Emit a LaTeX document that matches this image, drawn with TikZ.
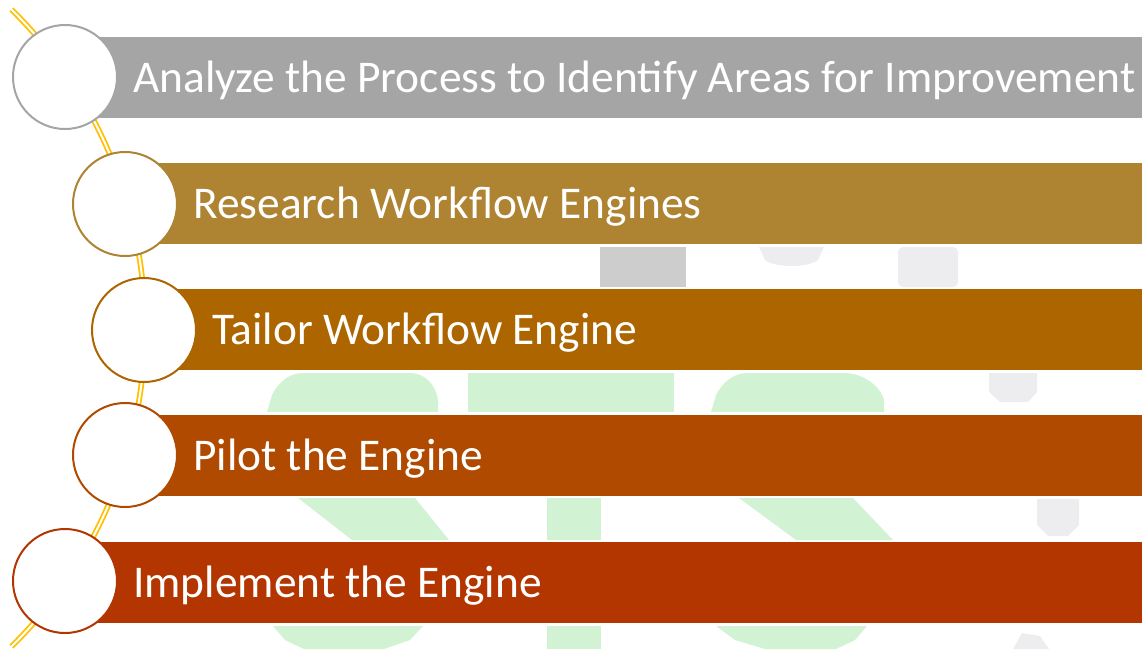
\documentclass[tikz,border=0pt]{standalone}
\usepackage{fontspec}
\setmainfont{Carlito}
\definecolor{cgray}{HTML}{A5A5A5}
\definecolor{cgold}{HTML}{AE8332}
\definecolor{corange}{HTML}{AD6500}
\definecolor{crust}{HTML}{B04A00}
\definecolor{cred}{HTML}{B33600}
\definecolor{cyel}{HTML}{FFC000}
\definecolor{wmgreen}{HTML}{D2F3D3}
\definecolor{wmgray}{HTML}{CDCDCD}
\definecolor{wmlight}{HTML}{EDEDEF}
\begin{document}
\begin{tikzpicture}[x=1pt,y=-1pt,
  bar/.style={fill=#1,draw=none},
  disc/.style={circle,draw=#1,fill=white,line width=2pt,minimum size=104pt,inner sep=0pt},
  label/.style={anchor=base west,text=white,font=\fontsize{45.4}{54}\selectfont,inner sep=0pt},
  rail/.style={draw=cyel,double=white,line width=1.8pt,double distance=2pt},
  wm/.style={fill=wmgreen,draw=none}]
\useasboundingbox (0,0) rectangle (1142,649);
% watermark pieces
\fill[wmgray] (600,247) rectangle (686,287);
\fill[wmlight] (759,247) -- (824,247) -- (818,260) .. controls (808,268) and (775,268) .. (765,260) -- cycle;
\fill[wmlight,rounded corners=5pt] (898,247) rectangle (958,287);
\fill[wmlight] (989,373) -- (1037,373) -- (1037,392) -- (1028,402) -- (1000,402) -- (989,392) -- cycle;
\fill[wmlight] (1037,499) -- (1079,499) -- (1079,525) -- (1068,536) -- (1048,536) -- (1037,525) -- cycle;
\fill[wmlight] (1013,649) -- (1049,649) -- (1040,636) -- (1022,633) -- cycle;
\fill[wm] (267,412) -- (272,395) .. controls (280,380) and (290,373) .. (304,373) -- (410,373) .. controls (425,373) and (436,385) .. (438,400) -- (438,412) -- cycle;
\fill[wm] (468,373) rectangle (674,412);
\fill[wm] (711,412) -- (716,395) .. controls (724,380) and (735,373) .. (748,373) -- (844,373) .. controls (862,373) and (880,385) .. (884,400) -- (884,412) -- cycle;
\fill[wm] (298,498) -- (415,498) -- (449,540) -- (352,540) -- cycle;
\fill[wm] (547,498) rectangle (601,540);
\fill[wm] (739,498) -- (853,498) -- (893,540) -- (796,540) -- cycle;
\fill[wm] (273,626) -- (423,626) -- (410,640) -- (384,649) -- (304,649) -- (285,640) -- cycle;
\fill[wm] (547,626) rectangle (601,649);
\fill[wm] (716,626) -- (867,626) -- (855,640) -- (836,649) -- (765,649) -- (735,640) -- cycle;
% rail through the circles
\coordinate (railtop) at (12,10);
\coordinate (railbot) at (12,645);
\draw[rail] plot[domain=-45.5:45.5,samples=90] ({-301.7+446.7*cos(\x)},{328+446.7*sin(\x)});
% bars
\fill[bar=cgray] (65,37) rectangle (1142,118);
\fill[bar=cgold] (125,163) rectangle (1142,244);
\fill[bar=corange] (144,289) rectangle (1142,370);
\fill[bar=crust] (125,415) rectangle (1142,496);
\fill[bar=cred] (65,542) rectangle (1142,623);
% circles
\node[disc=cgray] (c1) at (65,77) {};
\node[disc=cgold] (c2) at (125,204) {};
\node[disc=corange] (c3) at (144,330) {};
\node[disc=crust] (c4) at (125,455) {};
\node[disc=cred] (c5) at (65,581) {};
% labels
\node[label] (t1) at (133,92.3) {Analyze the Process to Identify Areas for Improvement};
\node[label] (t2) at (193,218.3) {Research Workflow Engines};
\node[label] (t3) at (212,344.3) {Tailor Workflow Engine};
\node[label] (t4) at (193,470.3) {Pilot the Engine};
\node[label] (t5) at (133,597.3) {Implement the Engine};
\end{tikzpicture}
\end{document}
